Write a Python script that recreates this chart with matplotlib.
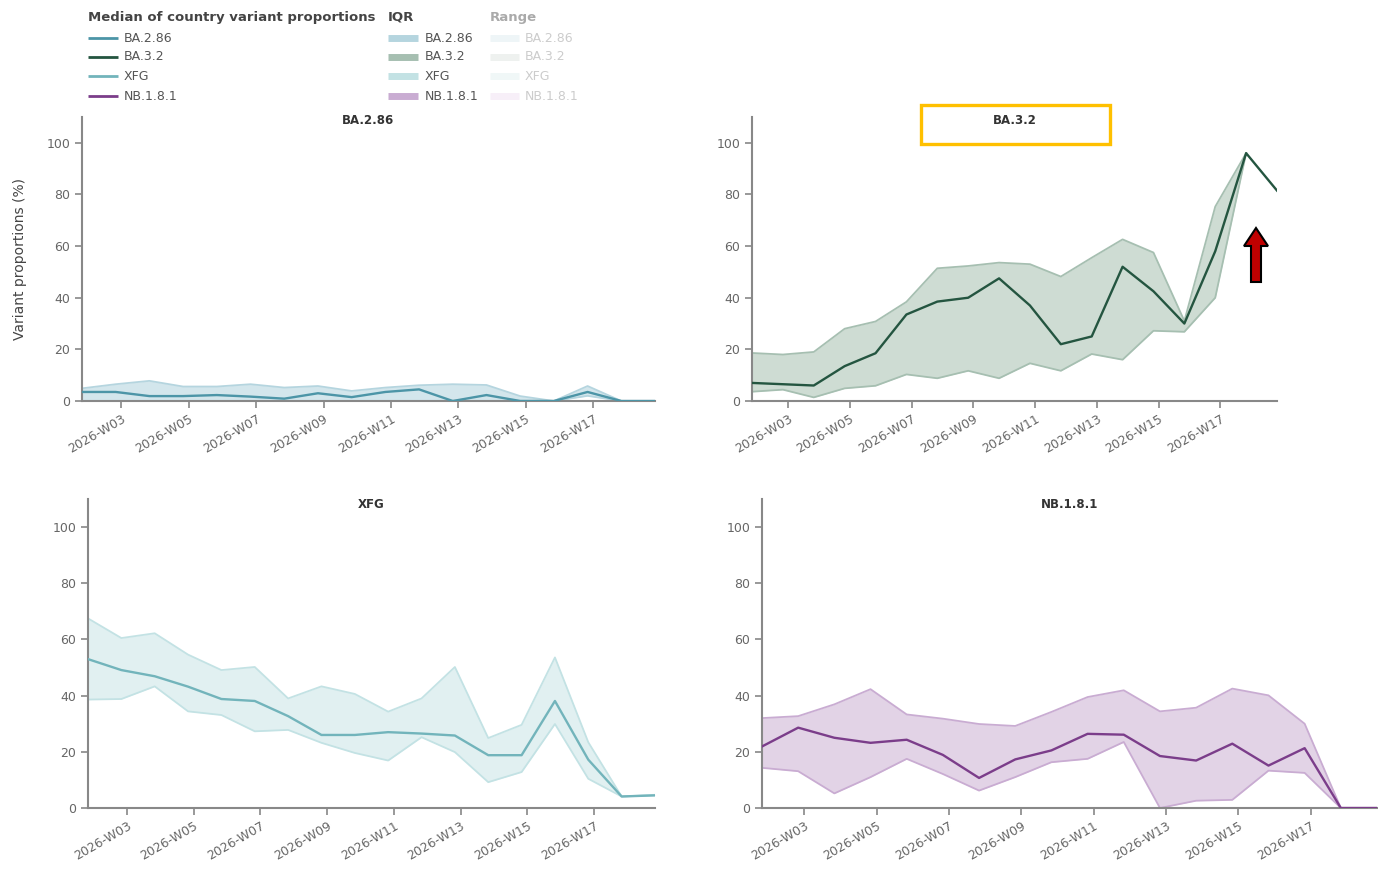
import numpy as np
import matplotlib
matplotlib.use("Agg")
import matplotlib.pyplot as plt
from matplotlib.lines import Line2D
from matplotlib.patches import Rectangle, FancyArrow
from matplotlib.transforms import IdentityTransform

# weeks shown on every panel
weeks = ["2026-W02", "2026-W03", "2026-W04", "2026-W05", "2026-W06", "2026-W07",
         "2026-W08", "2026-W09", "2026-W10", "2026-W11", "2026-W12", "2026-W13",
         "2026-W14", "2026-W15", "2026-W16", "2026-W17", "2026-W18", "2026-W19"]
tick_weeks = ["2026-W03", "2026-W05", "2026-W07", "2026-W09",
              "2026-W11", "2026-W13", "2026-W15", "2026-W17"]
variants = ["BA.2.86", "BA.3.2", "XFG", "NB.1.8.1"]

# median of country variant proportions (%)
ba286_med = [3.5, 3.5, 1.9, 1.9, 2.3, 1.7, 0.9, 3.0, 1.5, 3.5, 4.5, 0.0, 2.3, 0.0, 0.0, 3.5, 0.0, 0.0]
ba32_med = [7.0, 6.5, 6.0, 13.5, 18.5, 33.5, 38.5, 40.0, 47.5, 37.0, 22.0, 25.0, 52.0, 42.5, 30.0, 58.0, 96.0, 81.5]
xfg_med = [53.0, 49.1, 46.9, 43.2, 38.8, 38.1, 32.7, 26.0, 26.0, 27.0, 26.5, 25.8, 18.8, 18.8, 38.1, 17.2, 4.1, 4.5]
nb181_med = [21.9, 28.6, 25.0, 23.2, 24.3, 18.9, 10.7, 17.3, 20.5, 26.4, 26.1, 18.5, 16.9, 22.9, 15.1, 21.3, 0.0, 0.0]

# interquartile range, lower and upper
ba286_q1 = [0, 0, 0, 0, 0, 0, 0, 0, 0, 0, 0, 0, 0, 0, 0, 2.0, 0, 0]
ba286_q3 = [4.9, 6.5, 7.8, 5.6, 5.6, 6.5, 5.2, 5.8, 3.9, 5.2, 6.1, 6.5, 6.2, 1.9, 0.0, 5.8, 0.0, 0.0]
ba32_q1 = [3.6, 4.4, 1.4, 4.9, 5.9, 10.3, 8.8, 11.7, 8.8, 14.6, 11.7, 18.2, 16.0, 27.2, 26.8, 40.0, 96.0, np.nan]
ba32_q3 = [18.6, 18.0, 19.0, 28.0, 30.8, 38.4, 51.4, 52.3, 53.6, 53.0, 48.2, 55.5, 62.6, 57.5, 31.0, 75.3, 96.0, np.nan]
xfg_q1 = [38.6, 38.8, 43.3, 34.4, 33.1, 27.3, 27.8, 23.2, 19.6, 16.9, 25.2, 19.9, 9.2, 12.8, 29.9, 10.4, 4.1, 4.5]
xfg_q3 = [67.5, 60.5, 62.2, 54.6, 49.1, 50.2, 39.0, 43.3, 40.6, 34.3, 39.0, 50.2, 24.9, 29.6, 53.6, 23.4, 4.1, 4.7]
nb181_q1 = [14.3, 13.1, 5.2, 11.0, 17.5, 12.1, 6.2, 11.0, 16.3, 17.5, 23.5, 0.0, 2.6, 2.9, 13.3, 12.5, 0.0, 0.0]
nb181_q3 = [32.0, 32.7, 36.9, 42.3, 33.3, 31.8, 29.9, 29.2, 34.2, 39.5, 41.9, 34.4, 35.7, 42.5, 40.1, 30.0, 0.0, 0.0]

medians = [ba286_med, ba32_med, xfg_med, nb181_med]
q1s = [ba286_q1, ba32_q1, xfg_q1, nb181_q1]
q3s = [ba286_q3, ba32_q3, xfg_q3, nb181_q3]

line_cols = ["#4c95a7", "#245540", "#72b4bb", "#7b3d8a"]
fill_cols = ["#d3e6ec", "#cedcd3", "#e1f0f1", "#e2d3e6"]
edge_cols = ["#b5d5df", "#a6bfb1", "#c3e2e4", "#c9acd2"]
range_cols = ["#eef5f7", "#eef1ef", "#f0f7f7", "#f7eff8"]

W, H = 1378, 869
fig = plt.figure(figsize=(W / 100, H / 100), dpi=100)
plt.rcParams["font.family"] = ["DejaVu Sans"]


def fx(px):
    return px / W


def fy(py):
    return 1 - py / H


# axes boxes in pixels: left, right, top, bottom, title y
boxes = [(82, 655, 117, 401, 121), (752, 1277, 117, 401, 121),
         (88, 655, 499, 808, 504), (762, 1377, 499, 808, 504)]

x = np.arange(len(weeks))
tick_pos = [weeks.index(w) + 0.17 for w in tick_weeks]

for i, var in enumerate(variants):
    l, r, t, b, ty = boxes[i]
    ax = fig.add_axes([fx(l), fy(b), fx(r) - fx(l), fy(t) - fy(b)])
    med = np.array(medians[i], dtype=float)
    lo = np.array(q1s[i], dtype=float)
    hi = np.array(q3s[i], dtype=float)
    ax.fill_between(x, lo, hi, color=fill_cols[i], lw=0, zorder=1)
    ax.plot(x, lo, color=edge_cols[i], lw=1.3, zorder=2)
    ax.plot(x, hi, color=edge_cols[i], lw=1.3, zorder=2)
    ax.plot(x, med, color=line_cols[i], lw=1.7, zorder=3)

    ax.set_xlim(0, len(weeks) - 1)
    ax.set_ylim(0, 110)
    ax.set_yticks([0, 20, 40, 60, 80, 100])
    ax.set_xticks(tick_pos)
    ax.set_xticklabels(tick_weeks, rotation=30, ha="right", rotation_mode="anchor")
    ax.tick_params(colors="#888888", labelcolor="#666666", labelsize=9, length=5, width=1.2)
    for s in ["top", "right"]:
        ax.spines[s].set_visible(False)
    for s in ["left", "bottom"]:
        ax.spines[s].set_color("#888888")
        ax.spines[s].set_linewidth(1.5)
    # panel title sits just inside the top of the plot area
    fig.text((fx(l) + fx(r)) / 2, fy(ty), var, fontsize=8.5, fontweight="bold",
             color="#333333", ha="center", va="center")
    if i == 0:
        ax.set_ylabel("Variant proportions (%)", fontsize=10, color="#444444", labelpad=14)

# legend at the top, drawn by hand
fig.text(fx(88), fy(17), "Median of country variant proportions", fontsize=9.5,
         fontweight="bold", color="#444444", va="center")
fig.text(fx(388), fy(17), "IQR", fontsize=9.5, fontweight="bold", color="#444444", va="center")
fig.text(fx(490), fy(17), "Range", fontsize=9.5, fontweight="bold", color="#aaaaaa", va="center")
rows = [38, 57, 76, 96]
for i, var in enumerate(variants):
    yy = fy(rows[i])
    fig.add_artist(Line2D([fx(88), fx(118)], [yy, yy], color=line_cols[i], lw=2,
                          solid_capstyle="butt", transform=fig.transFigure))
    fig.text(fx(124), yy, var, fontsize=9, color="#555555", va="center")
    fig.add_artist(Line2D([fx(388), fx(418)], [yy, yy], color=edge_cols[i], lw=5,
                          solid_capstyle="butt", transform=fig.transFigure))
    fig.text(fx(425), yy, var, fontsize=9, color="#555555", va="center")
    fig.add_artist(Line2D([fx(490), fx(519)], [yy, yy], color=range_cols[i], lw=5,
                          solid_capstyle="butt", transform=fig.transFigure))
    fig.text(fx(525), yy, var, fontsize=9, color="#cccccc", va="center")

# highlight box round the BA.3.2 title
fig.add_artist(Rectangle((fx(921), fy(144)), fx(1110) - fx(921), fy(105) - fy(144),
                         fill=False, edgecolor="#FFC000", lw=2.4, transform=fig.transFigure))

# red arrow pointing up
fig.add_artist(FancyArrow(1256, H - 282, 0, 54, width=10, head_width=24, head_length=18,
                          length_includes_head=True, facecolor="#C00000", edgecolor="black",
                          lw=1.5, transform=IdentityTransform()))

fig.savefig("out.png", dpi=100)
